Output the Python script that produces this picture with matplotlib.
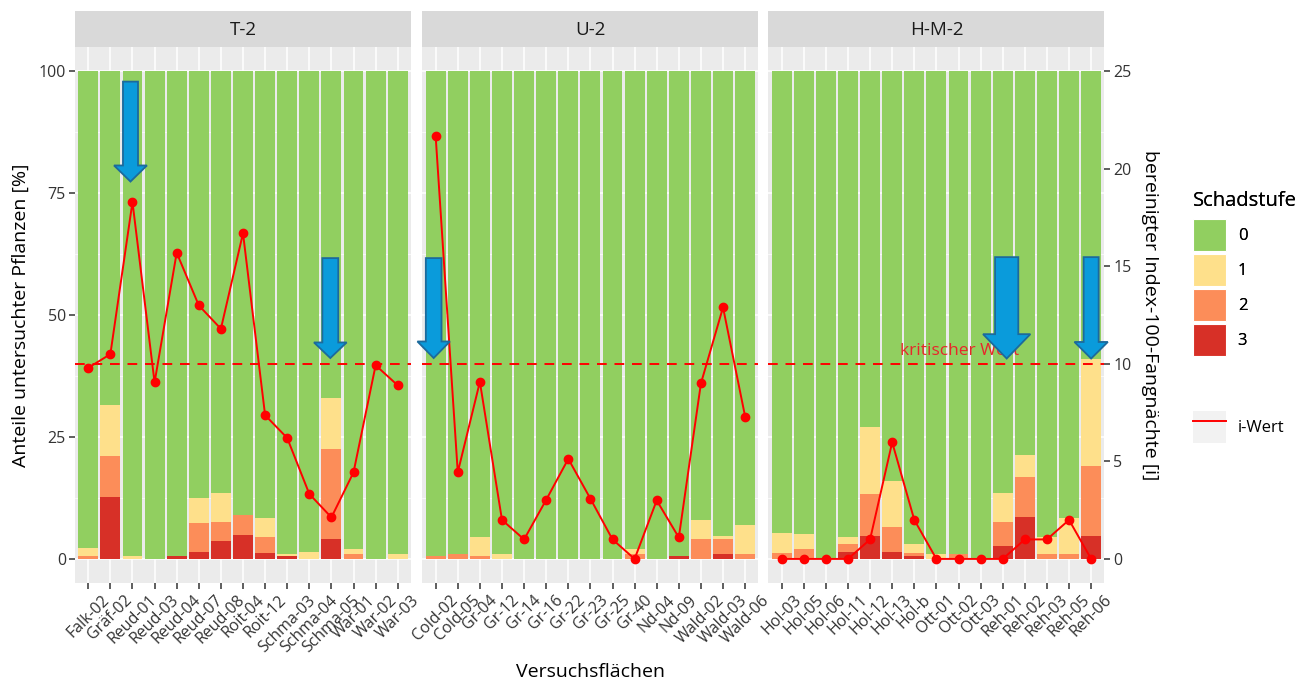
import matplotlib
matplotlib.use('Agg')
import matplotlib.pyplot as plt
from matplotlib.patches import Patch, FancyArrow
from matplotlib.lines import Line2D
from matplotlib.legend_handler import HandlerTuple
import numpy as np

plt.rcParams['font.family'] = ['Open Sans', 'DejaVu Sans']

# ---------------- data ----------------
panels = ['T-2', 'U-2', 'H-M-2']

sites_t2 = ['Falk-02', 'Gräf-02', 'Reud-01', 'Reud-03', 'Reud-04', 'Reud-07', 'Reud-08',
            'Roit-04', 'Roit-12', 'Schma-03', 'Schma-04', 'Schma-05', 'War-01', 'War-02', 'War-03']
s3_t2 = [0, 12.6, 0, 0, 0.5, 1.4, 3.6, 5.0, 1.3, 0.5, 0, 4.0, 0, 0, 0]
s2_t2 = [0.7, 8.6, 0, 0, 0, 5.9, 3.9, 4.0, 3.2, 0, 0, 18.6, 1.0, 0, 0]
s1_t2 = [1.5, 10.3, 0.5, 0, 0, 5.2, 6.1, 0, 3.9, 0.5, 1.4, 10.5, 1.0, 0, 1.0]
iw_t2 = [9.8, 10.5, 18.3, 9.05, 15.7, 13.0, 11.8, 16.7, 7.37, 6.2, 3.33, 2.13, 4.44, 9.93, 8.9]

sites_u2 = ['Cold-02', 'Cold-05', 'Gr-04', 'Gr-12', 'Gr-14', 'Gr-16', 'Gr-22', 'Gr-23',
            'Gr-25', 'Gr-40', 'Nd-04', 'Nd-09', 'Wald-02', 'Wald-03', 'Wald-06']
s3_u2 = [0, 0, 0, 0, 0, 0, 0, 0, 0, 0, 0, 0.5, 0, 1.0, 0]
s2_u2 = [0.5, 1.0, 0.5, 0, 0, 0, 0, 0, 0, 1.0, 0, 0, 4.0, 3.0, 1.0]
s1_u2 = [0, 0, 4.0, 1.0, 0, 0, 0, 0, 0, 1.0, 0, 0, 4.0, 0.6, 6.0]
iw_u2 = [21.67, 4.44, 9.08, 2.0, 1.0, 3.03, 5.13, 3.09, 1.0, 0, 3.0, 1.1, 9.0, 12.9, 7.3]

sites_hm2 = ['Hol-03', 'Hol-05', 'Hol-06', 'Hol-11', 'Hol-12', 'Hol-13', 'Hol-b', 'Ott-01',
             'Ott-02', 'Ott-03', 'Reh-01', 'Reh-02', 'Reh-03', 'Reh-05', 'Reh-06']
s3_hm2 = [0, 0, 0, 1.5, 4.8, 1.5, 0.5, 0, 0, 0, 2.6, 8.6, 0, 0, 4.6]
s2_hm2 = [1.2, 2.0, 0, 1.5, 8.5, 5.0, 0.7, 0, 1.0, 0, 4.9, 8.2, 1.0, 1.0, 14.5]
s1_hm2 = [4.2, 3.1, 0, 1.5, 13.7, 9.5, 1.8, 1.0, 0, 0, 6.1, 4.6, 3.5, 7.4, 21.9]
iw_hm2 = [0, 0, 0, 0, 1.0, 5.98, 2.0, 0, 0, 0, 0, 1.0, 1.0, 2.0, 0]

stufen = ['0', '1', '2', '3']
krit_wert = 10
y_ticks = [0, 25, 50, 75, 100]
i_ticks = [0, 5, 10, 15, 20, 25]

# highlighted sites (blue arrows)
arrow_sites = [('T-2', 'Reud-01'), ('T-2', 'Schma-05'), ('U-2', 'Cold-02'),
               ('H-M-2', 'Reh-01'), ('H-M-2', 'Reh-06')]

# ---------------- style ----------------
colors = {'0': '#91CF60', '1': '#FEE08B', '2': '#FC8D59', '3': '#D73027'}
panel_bg = '#EBEBEB'
strip_bg = '#D9D9D9'
line_col = '#FF0000'
arrow_face = '#0A9BDB'
arrow_edge = '#1C6A9C'
tick_col = '#333333'
scale = 4.0  # 100 % <-> 25 i

FS_TICK = 11.5
FS_TITLE = 14
FS_STRIP = 13.5

W, H = 1297, 683
fig = plt.figure(figsize=(W / 100, H / 100), dpi=100)

lefts = [75, 422.4, 768.4]
pw = 336
ptop, pbot = 47, 583.3
strip_top = 11.3

data = {
    'T-2': (sites_t2, s3_t2, s2_t2, s1_t2, iw_t2),
    'U-2': (sites_u2, s3_u2, s2_u2, s1_u2, iw_u2),
    'H-M-2': (sites_hm2, s3_hm2, s2_hm2, s1_hm2, iw_hm2),
}

# arrow geometry (x offset in bar units, top %, tip %, shaft width, head width, head len)
arrow_geom = {
    ('T-2', 'Reud-01'): (-0.09, 97.9, 77.4, 0.68, 1.49, 3.3),
    ('T-2', 'Schma-05'): (-0.05, 61.7, 41.2, 0.72, 1.48, 3.2),
    ('U-2', 'Cold-02'): (-0.09, 61.7, 41.2, 0.71, 1.47, 3.4),
    ('H-M-2', 'Reh-01'): (0.18, 61.9, 41.1, 1.05, 2.14, 5.0),
    ('H-M-2', 'Reh-06'): (0.0, 61.9, 41.1, 0.68, 1.51, 3.4),
}

axes = []
for k, name in enumerate(panels):
    sites, s3, s2, s1, iw = data[name]
    s3 = np.array(s3, float); s2 = np.array(s2, float); s1 = np.array(s1, float)
    s0 = 100 - s3 - s2 - s1
    x = np.arange(len(sites))
    ax = fig.add_axes([lefts[k] / W, 1 - pbot / H, pw / W, (pbot - ptop) / H])
    axes.append(ax)
    ax.set_facecolor(panel_bg)
    for sp in ax.spines.values():
        sp.set_visible(False)
    ax.set_axisbelow(True)
    ax.grid(True, which='major', color='white', linewidth=1.1)
    ax.set_yticks(np.arange(12.5, 100, 25), minor=True)
    ax.grid(True, which='minor', axis='y', color='white', linewidth=0.5)
    ax.tick_params(which='minor', length=0)

    bottom = np.zeros(len(sites))
    for vals, key in [(s3, '3'), (s2, '2'), (s1, '1'), (s0, '0')]:
        ax.bar(x, vals, bottom=bottom, width=0.9, color=colors[key], linewidth=0, zorder=2)
        bottom = bottom + vals

    ax.plot(x, np.array(iw) * scale, color=line_col, linewidth=1.4, marker='o',
            markersize=6, zorder=4, clip_on=False)
    ax.axhline(krit_wert * scale, color=line_col, linewidth=1.4, linestyle=(0, (5, 4)), zorder=3)

    ax.set_xlim(-0.6, len(sites) - 0.4)
    ax.set_ylim(-5, 105)
    ax.set_xticks(x)
    ax.set_xticklabels(sites, rotation=45, ha='center', va='top', fontsize=FS_TICK, color=tick_col)
    ax.tick_params(axis='x', length=4.5, width=1.1, color=tick_col, pad=2)
    ax.set_yticks(y_ticks)
    if k == 0:
        ax.set_yticklabels([str(t) for t in y_ticks], fontsize=FS_TICK, color=tick_col)
        ax.tick_params(axis='y', length=4.5, width=1.1, color=tick_col, pad=2)
        ax.set_ylabel('Anteile untersuchter Pflanzen [%]', fontsize=FS_TITLE, color='black',
                      labelpad=6)
    else:
        ax.tick_params(axis='y', length=0, labelleft=False)

    # strip
    sax = fig.add_axes([lefts[k] / W, 1 - ptop / H, pw / W, (ptop - strip_top) / H])
    sax.set_facecolor(strip_bg)
    sax.set_xticks([]); sax.set_yticks([])
    for sp in sax.spines.values():
        sp.set_visible(False)
    sax.text(0.5, 0.48, name, ha='center', va='center', fontsize=FS_STRIP, color='#1A1A1A',
             transform=sax.transAxes)

    # arrows
    for (pn, site) in arrow_sites:
        if pn != name:
            continue
        dx_off, top, tip, sw, hw, hl = arrow_geom[(pn, site)]
        xi = sites.index(site) + dx_off
        arr = FancyArrow(xi, top, 0, tip - top, width=sw, head_width=hw, head_length=hl,
                         length_includes_head=True, facecolor=arrow_face, edgecolor=arrow_edge,
                         linewidth=1.3, zorder=6, clip_on=False)
        ax.add_patch(arr)

# critical-value label in third panel
axes[2].text(5.35, krit_wert * scale + 1.0, 'kritischer Wert', color='#E8262B', fontsize=12.5,
             ha='left', va='bottom', zorder=5)

# secondary axis (i-Wert)
sec = axes[2].secondary_yaxis('right', functions=(lambda v: v / scale, lambda v: v * scale))
sec.set_yticks(i_ticks)
sec.set_yticklabels([str(t) for t in i_ticks], fontsize=FS_TICK, color=tick_col)
sec.tick_params(length=4.5, width=1.1, color=tick_col, pad=2)
for sp in sec.spines.values():
    sp.set_visible(False)
sec.set_ylabel('bereinigter Index-100-Fangnächte [i]', rotation=-90, fontsize=FS_TITLE,
               labelpad=20, color='black')

fig.text(590 / W, 1 - 672 / H, 'Versuchsflächen', ha='center', va='center', fontsize=FS_TITLE)

# legends
handles = [Patch(facecolor=colors[s], edgecolor='white', linewidth=0.8) for s in stufen]
leg1 = fig.legend(handles, stufen, title='Schadstufe', loc='upper left',
                  bbox_to_anchor=(1186 / W, 1 - 184 / H), frameon=False, fontsize=12,
                  title_fontsize=14.5, handlelength=2.0, handleheight=2.58, labelspacing=0.18,
                  handletextpad=0.7, alignment='left', borderaxespad=0, borderpad=0.4)
leg1._legend_box.sep = 6.0
fig.add_artist(leg1)
h2 = (Patch(facecolor='#F2F2F2', edgecolor='none'), Line2D([], [], color=line_col, linewidth=1.4))
fig.legend([h2], ['i-Wert'], loc='upper left', bbox_to_anchor=(1186 / W, 1 - 404 / H),
           frameon=False, fontsize=12, handlelength=2.0, handleheight=2.58,
           handletextpad=0.7, handler_map={tuple: HandlerTuple(ndivide=1)},
           borderaxespad=0, borderpad=0.4)

fig.savefig('out.png', dpi=100)
